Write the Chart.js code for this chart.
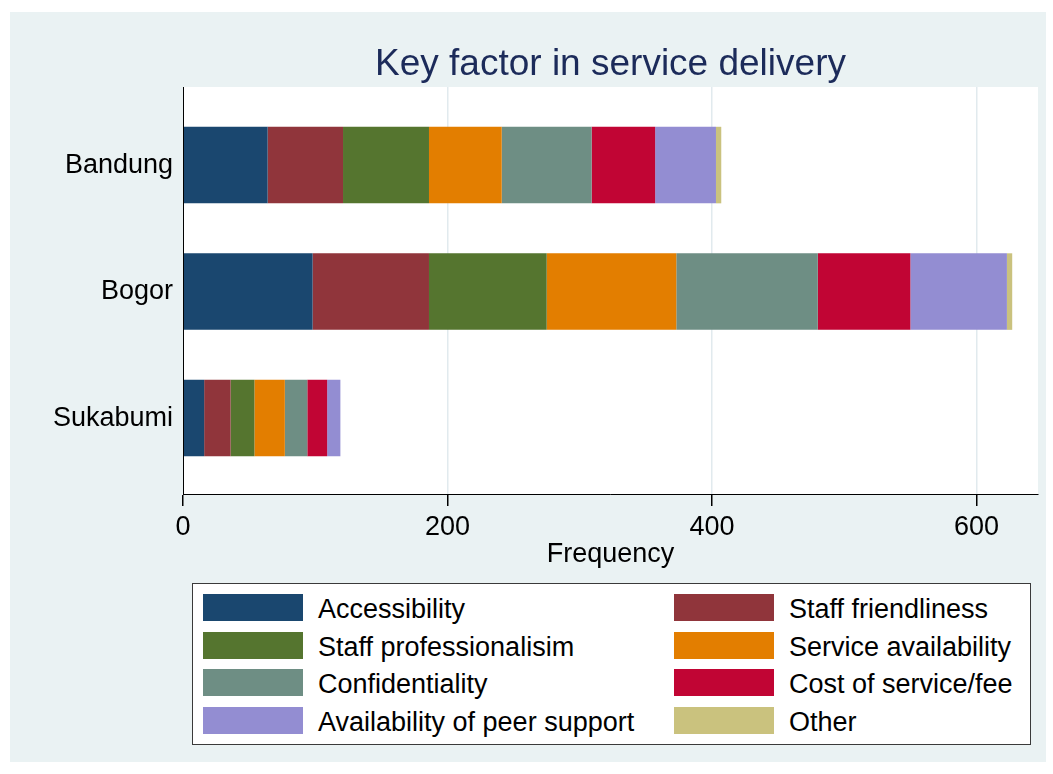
<!DOCTYPE html>
<html>
<head>
<meta charset="utf-8">
<title>Key factor in service delivery</title>
<script src="https://cdn.jsdelivr.net/npm/chart.js@4.4.1/dist/chart.umd.min.js"></script>
<style>
    body { margin: 0; background: #ffffff; font-family: "Liberation Sans", Arial, sans-serif; }
    #frame { position: absolute; left: 10px; top: 12px; width: 1036px; height: 750px; background: #eaf2f3; }
    #legend {
        position: absolute; left: 192px; top: 583px; width: 839px; height: 162px;
        box-sizing: border-box; border: 1px solid #3a3a3a; background: #ffffff;
        padding: 10px 0 0 10px;
        display: grid; grid-template-columns: 471px auto; grid-auto-rows: 37.5px;
    }
    .item { display: flex; align-items: flex-start; }
    .swatch { width: 100px; height: 27px; flex: none; }
    .label { margin-left: 15px; font-size: 27px; line-height: 27px; padding-top: 2px; color: #000; white-space: nowrap; }
</style>
</head>
<body>
<div id="frame">
    <canvas id="chart" width="1036" height="750"></canvas>
</div>
<div id="legend"></div>

<script>
// --- DATA ---
const categories = ['Bandung', 'Bogor', 'Sukabumi'];
const factors = [
    'Accessibility', 'Staff friendliness', 'Staff professionalisim', 'Service availability',
    'Confidentiality', 'Cost of service/fee', 'Availability of peer support', 'Other'
];
const accessibility        = [64, 98, 16];
const staffFriendliness    = [57, 88, 20];
const staffProfessionalism = [65, 89, 18];
const serviceAvailability  = [55, 98, 23];
const confidentiality      = [68, 107, 17];
const costOfService        = [48, 70, 15];
const peerSupport          = [46, 73, 10];
const other                = [4, 4, 0];
const xTicks = [0, 200, 400, 600];

// Stata s2color palette
const colors = ['#1a476f', '#90353b', '#55752f', '#e37e00', '#6e8e84', '#c10534', '#938dd2', '#cac27e'];

const series = [accessibility, staffFriendliness, staffProfessionalism, serviceAvailability,
                confidentiality, costOfService, peerSupport, other];

const FONT = '"Liberation Sans", Arial, sans-serif';

// white plot region
const plotBg = {
    id: 'plotBg',
    beforeDraw(chart) {
        const a = chart.chartArea;
        const ctx = chart.ctx;
        ctx.save();
        ctx.fillStyle = '#ffffff';
        ctx.fillRect(a.left, a.top, a.right - a.left, a.bottom - a.top);
        ctx.restore();
    }
};

const datasets = series.map((vals, k) => ({
    label: factors[k],
    data: vals.map((v, i) => ({ x: v, y: i + 1 })),
    backgroundColor: colors[k],
    borderWidth: 0,
    barPercentage: 0.605,
    categoryPercentage: 1
}));

new Chart(document.getElementById('chart'), {
    type: 'bar',
    data: { datasets },
    plugins: [plotBg],
    options: {
        indexAxis: 'y',
        responsive: false,
        animation: false,
        layout: { padding: { top: 0, left: 0, right: 8, bottom: 191 } },
        plugins: {
            legend: { display: false },
            tooltip: { enabled: false },
            title: {
                display: true,
                text: 'Key factor in service delivery',
                fullSize: false,
                color: '#1c2b5a',
                font: { family: FONT, size: 37, weight: 'normal', lineHeight: 1.1 },
                padding: { top: 32.6, bottom: 1.7 }
            }
        },
        scales: {
            x: {
                type: 'linear',
                stacked: true,
                min: 0,
                max: 646.5,
                afterBuildTicks: (s) => { s.ticks = xTicks.map(v => ({ value: v })); },
                afterFit: (s) => { s.height = 77; },
                grid: {
                    color: (c) => (c.tick && c.tick.value === 0) ? 'rgba(0,0,0,0)' : '#e1eaee',
                    lineWidth: 1.5,
                    tickColor: '#000000',
                    tickLength: 12
                },
                border: { display: true, color: '#000000', width: 1 },
                ticks: {
                    color: '#000000',
                    padding: 5,
                    font: { family: FONT, size: 27 }
                },
                title: {
                    display: true,
                    text: 'Frequency',
                    color: '#000000',
                    font: { family: FONT, size: 27, lineHeight: 1.2 },
                    padding: { top: 0, bottom: 0 }
                }
            },
            y: {
                type: 'linear',
                stacked: true,
                reverse: true,
                offset: false,
                min: 0.383,
                max: 3.6,
                afterBuildTicks: (s) => { s.ticks = categories.map((c, i) => ({ value: i + 1 })); },
                afterFit: (s) => { s.width = 173; },
                grid: { display: false, drawTicks: false, offset: false },
                border: { display: true, color: '#000000', width: 1, z: 1 },
                ticks: {
                    color: '#000000',
                    padding: 10,
                    font: { family: FONT, size: 27 },
                    callback: (v) => categories[Math.round(v) - 1]
                }
            }
        }
    }
});

// --- LEGEND (2 columns, row-wise like Stata) ---
const legend = document.getElementById('legend');
factors.forEach((name, k) => {
    const item = document.createElement('div');
    item.className = 'item';
    item.innerHTML = `<span class="swatch" style="background:${colors[k]}"></span><span class="label">${name}</span>`;
    legend.appendChild(item);
});
</script>
</body>
</html>
